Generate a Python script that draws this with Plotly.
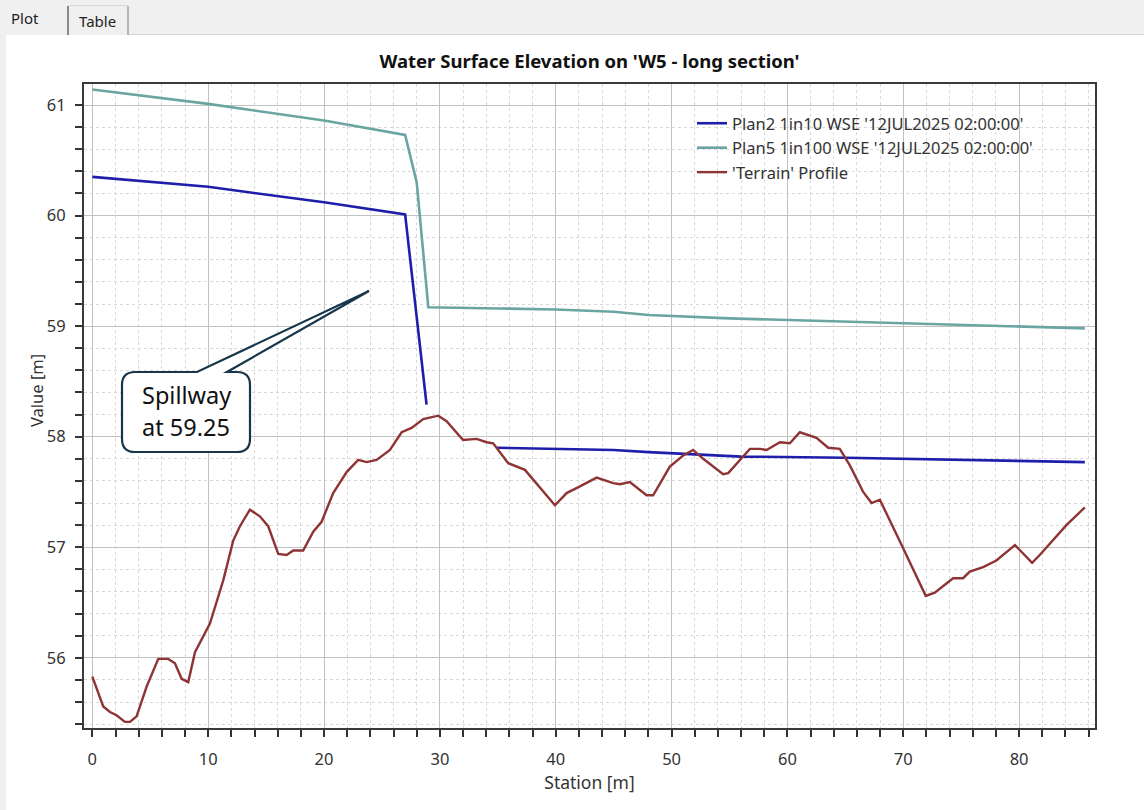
import plotly.graph_objects as go

# ---------------- data ----------------
terrain_station = [0.0, 0.94, 1.52, 2.09, 2.81, 3.25, 3.82, 4.69, 5.69, 6.55, 7.13, 7.71, 8.28, 8.86,
                   10.15, 11.3, 12.16, 12.74, 13.6, 14.46, 15.18, 16.05, 16.77, 17.34, 18.2, 19.07,
                   19.79, 20.79, 21.95, 22.95, 23.67, 24.54, 25.69, 26.7, 27.56, 28.56, 29.86, 30.58,
                   32.0, 33.17, 34.03, 34.6, 35.9, 36.62, 37.34, 39.93, 40.94, 42.09, 43.53, 44.96,
                   45.54, 46.4, 47.84, 48.41, 49.85, 51.0, 51.86, 52.73, 54.45, 54.89, 56.76, 57.62,
                   58.2, 59.35, 60.21, 61.07, 62.51, 63.52, 64.52, 65.39, 66.54, 67.26, 67.98, 69.99,
                   71.94, 72.72, 74.3, 75.16, 75.74, 76.89, 78.04, 79.64, 81.12, 81.78, 82.93, 84.08,
                   85.67]
terrain_elev = [55.83, 55.56, 55.51, 55.48, 55.42, 55.42, 55.47, 55.74, 55.99, 55.99, 55.95, 55.81,
                55.78, 56.05, 56.31, 56.70, 57.06, 57.19, 57.34, 57.28, 57.19, 56.94, 56.93, 56.97,
                56.97, 57.14, 57.23, 57.49, 57.68, 57.79, 57.77, 57.79, 57.88, 58.04, 58.08, 58.16,
                58.19, 58.14, 57.97, 57.98, 57.95, 57.94, 57.76, 57.73, 57.70, 57.38, 57.49, 57.55,
                57.63, 57.58, 57.57, 57.59, 57.47, 57.47, 57.73, 57.83, 57.88, 57.80, 57.66, 57.67,
                57.89, 57.89, 57.88, 57.95, 57.94, 58.04, 57.99, 57.90, 57.89, 57.74, 57.50, 57.40,
                57.43, 56.99, 56.56, 56.59, 56.72, 56.72, 56.78, 56.82, 56.88, 57.02, 56.86, 56.93,
                57.07, 57.20, 57.36]

plan2_station = [0.0, 10.0, 20.0, 27.0, 28.85, None, 34.9, 40.0, 45.0, 48.0, 56.0, 65.0, 75.0, 85.67]
plan2_wse = [60.35, 60.26, 60.12, 60.01, 58.29, None, 57.90, 57.89, 57.88, 57.86, 57.82, 57.81, 57.79, 57.77]

plan5_station = [0.0, 10.0, 20.0, 27.0, 28.0, 29.0, 35.0, 40.0, 45.0, 48.0, 55.0, 65.0, 75.0, 85.67]
plan5_wse = [61.14, 61.01, 60.86, 60.73, 60.30, 59.17, 59.16, 59.15, 59.13, 59.10, 59.07, 59.04, 59.01, 58.98]

series_names = ["Plan2 1in10 WSE '12JUL2025 02:00:00'",
                "Plan5 1in100 WSE '12JUL2025 02:00:00'",
                "'Terrain' Profile"]
title_text = "Water Surface Elevation on 'W5 - long section'"
callout_lines = ["Spillway", "at 59.25"]

# ---------------- layout geometry ----------------
W, H = 1144, 810
L, R, T, B = 84, 1095, 84, 728   # plot area in pixels
FONT = "Noto Sans"


def px(x):
    return (x - L) / (R - L)


def py(y):
    return (B - y) / (B - T)


fig = go.Figure()

fig.add_trace(go.Scatter(x=plan2_station, y=plan2_wse, mode="lines", name=series_names[0],
                         line=dict(color="#1e1eaa", width=2.6), legendgroup="a", connectgaps=False))
fig.add_trace(go.Scatter(x=plan5_station, y=plan5_wse, mode="lines", name=series_names[1],
                         line=dict(color="#6aa5a2", width=2.6), legendgroup="b"))
fig.add_trace(go.Scatter(x=terrain_station, y=terrain_elev, mode="lines", name=series_names[2],
                         line=dict(color="#8f3434", width=2.4), legendgroup="c"))

shapes = []
# window chrome: tab bar + left strip
shapes.append(dict(type="rect", xref="paper", yref="paper", x0=px(0), x1=px(W), y0=py(0), y1=py(35),
                   fillcolor="#f0f0f0", line=dict(width=0), layer="below"))
shapes.append(dict(type="rect", xref="paper", yref="paper", x0=px(0), x1=px(6), y0=py(35), y1=py(H),
                   fillcolor="#f0f0f0", line=dict(width=0), layer="below"))
shapes.append(dict(type="line", xref="paper", yref="paper", x0=px(128), x1=px(W), y0=py(34.5), y1=py(34.5),
                   line=dict(color="#d4d4d4", width=1)))
shapes.append(dict(type="line", xref="paper", yref="paper", x0=px(68), x1=px(68), y0=py(6), y1=py(35),
                   line=dict(color="#8a8a8a", width=2)))
shapes.append(dict(type="line", xref="paper", yref="paper", x0=px(128), x1=px(128), y0=py(6), y1=py(35),
                   line=dict(color="#a0a0a0", width=1.5)))
shapes.append(dict(type="line", xref="paper", yref="paper", x0=px(68), x1=px(128), y0=py(5.5), y1=py(5.5),
                   line=dict(color="#d8d8d8", width=1)))

# callout (rounded box with pointer)
bx0, bx1, by0, by1, rad = 122, 250, 372, 452, 13
wl, wr = 197, 227
tip = (369, 291)


def P(x, y):
    return f"{px(x):.5f},{py(y):.5f}"


path = (f"M {P(bx0 + rad, by0)} L {P(wl, by0)} L {P(*tip)} L {P(wr, by0)} L {P(bx1 - rad, by0)} "
        f"Q {P(bx1, by0)} {P(bx1, by0 + rad)} L {P(bx1, by1 - rad)} "
        f"Q {P(bx1, by1)} {P(bx1 - rad, by1)} L {P(bx0 + rad, by1)} "
        f"Q {P(bx0, by1)} {P(bx0, by1 - rad)} L {P(bx0, by0 + rad)} "
        f"Q {P(bx0, by0)} {P(bx0 + rad, by0)} Z")
shapes.append(dict(type="path", xref="paper", yref="paper", path=path, fillcolor="white",
                   line=dict(color="#17364a", width=2.2), layer="above"))

annotations = [
    dict(x=px(25), y=py(18), xref="paper", yref="paper", text="Plot", showarrow=False,
         font=dict(family=FONT, size=15, color="#222"), xanchor="center", yanchor="middle"),
    dict(x=px(97), y=py(21), xref="paper", yref="paper", text="Table", showarrow=False,
         font=dict(family=FONT, size=15, color="#222"), xanchor="center", yanchor="middle"),
    dict(x=px(36), y=py(391), xref="paper", yref="paper", text="Value [m]", showarrow=False, textangle=-90,
         font=dict(family=FONT, size=16.5, color="#333"), xanchor="center", yanchor="middle"),
    dict(x=px(186), y=py(395), xref="paper", yref="paper", text=callout_lines[0], showarrow=False,
         font=dict(family=FONT, size=23.5, color="#111"), xanchor="center", yanchor="middle"),
    dict(x=px(186), y=py(427), xref="paper", yref="paper", text=callout_lines[1], showarrow=False,
         font=dict(family=FONT, size=23.5, color="#111"), xanchor="center", yanchor="middle"),
]

fig.update_layout(
    width=W, height=H,
    margin=dict(l=L, r=W - R, t=T, b=H - B, pad=0),
    paper_bgcolor="white", plot_bgcolor="white",
    title=dict(text=f"<b>{title_text}</b>", x=px((L + R) / 2), xref="paper", xanchor="center",
               y=1 - 62 / H, yanchor="middle", font=dict(family=FONT, size=18.5, color="#111")),
    font=dict(family=FONT, size=16, color="#333"),
    showlegend=True,
    legend=dict(x=px(692), y=py(106), xref="paper", yref="paper", xanchor="left", yanchor="top",
                bgcolor="rgba(255,255,255,0)", borderwidth=0, tracegroupgap=0,
                font=dict(family=FONT, size=16.5, color="#333")),
    shapes=shapes,
    annotations=annotations,
)

grid_major = "#c2c2c2"
grid_minor = "#d8d8d8"

fig.update_xaxes(
    range=[-0.72, 86.55], tickmode="linear", tick0=0, dtick=10,
    ticks="outside", ticklen=7, tickwidth=2, tickcolor="#333",
    showline=True, linecolor="#3a3a3a", linewidth=2, mirror=True,
    showgrid=True, gridcolor=grid_major, gridwidth=1,
    zeroline=False, ticklabelstandoff=8,
    tickfont=dict(family=FONT, size=16.5, color="#333"),
    minor=dict(tick0=0, dtick=2, ticks="outside", ticklen=7, tickwidth=2, tickcolor="#333",
               showgrid=True, gridcolor=grid_minor, griddash="3px,3px", gridwidth=1),
    title=dict(text="Station [m]", standoff=6, font=dict(family=FONT, size=17.5, color="#333")),
)
fig.update_yaxes(
    range=[55.365, 61.19], tickmode="linear", tick0=56, dtick=1,
    ticks="outside", ticklen=7, tickwidth=2, tickcolor="#333",
    showline=True, linecolor="#3a3a3a", linewidth=2, mirror=True,
    showgrid=True, gridcolor=grid_major, gridwidth=1,
    zeroline=False, ticklabelstandoff=6,
    tickfont=dict(family=FONT, size=16.5, color="#333"),
    minor=dict(tick0=56, dtick=0.2, ticks="outside", ticklen=7, tickwidth=2, tickcolor="#333",
               showgrid=True, gridcolor=grid_minor, griddash="3px,3px", gridwidth=1),
)

fig.write_html("out.html")
